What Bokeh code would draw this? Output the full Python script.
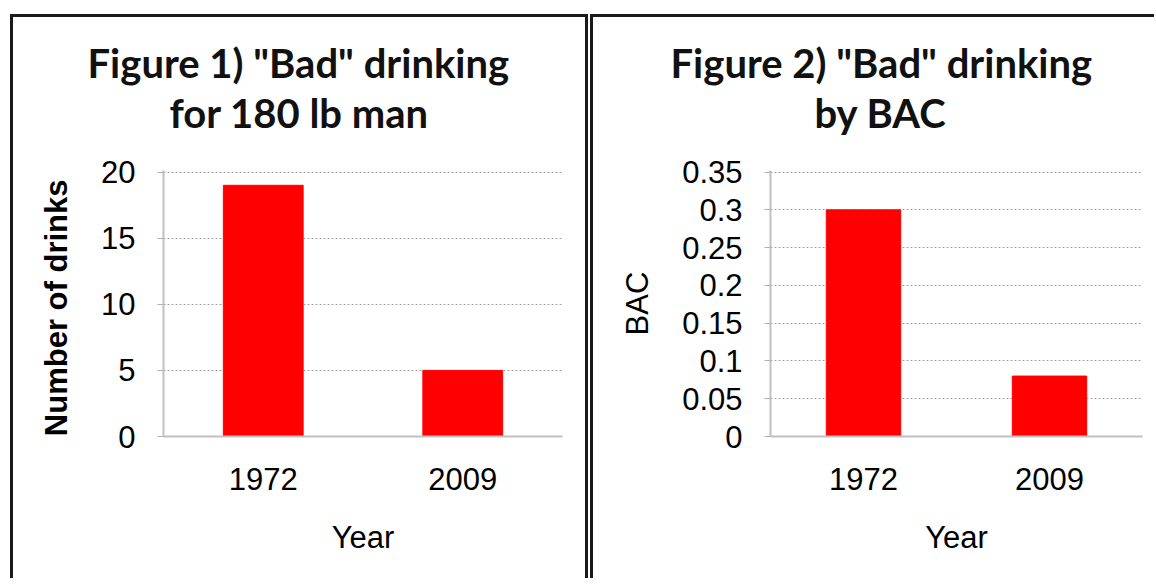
from bokeh.plotting import figure
from bokeh.layouts import row
from bokeh.models import Title, FactorRange, Range1d, FixedTicker, NumeralTickFormatter
from bokeh.embed import file_html
from bokeh.resources import INLINE

# ---- data ----
years = ["1972", "2009"]
drinks = [19, 5]
bac = [0.30, 0.08]
drink_ticks = [0, 5, 10, 15, 20]
bac_ticks = [0, 0.05, 0.10, 0.15, 0.20, 0.25, 0.30, 0.35]
title1 = ['Figure 1) "Bad" drinking', "for 180 lb man"]
title2 = ['Figure 2) "Bad" drinking', "by BAC"]
ylabel1 = "Number of  drinks"
ylabel2 = "BAC"
xlabel = "Year"

TICK_FONT = "Liberation Sans"
TITLE_FONT = "Lato"
BORDER = "3px solid #1a1a1a"


def make_panel(vals, ticks, ymax, ylabel, title_lines, width, left, right, offsets, fmt=None):
    p = figure(
        x_range=FactorRange(*years), y_range=Range1d(0, ymax * 1.006),
        width=width, height=564, output_backend="svg", toolbar_location=None,
        min_border_left=left, min_border_right=right, min_border_top=153, min_border_bottom=145,
        background_fill_color="white", border_fill_color="white",
    )
    p.outline_line_color = None
    p.vbar(x=years, top=vals, width=0.4, fill_color="#ff0000", line_color="#ff0000")

    p.xgrid.grid_line_color = None
    p.ygrid.grid_line_color = "#a0a0a0"
    p.ygrid.grid_line_dash = "2 2"
    p.ygrid.grid_line_width = 1

    p.yaxis.ticker = FixedTicker(ticks=ticks)
    if fmt is not None:
        p.yaxis.formatter = NumeralTickFormatter(format=fmt)

    for ax in (p.xaxis[0], p.yaxis[0]):
        ax.axis_line_color = "#c0c0c0"
        ax.axis_line_width = 2
        ax.major_tick_line_color = "#b0b0b0"
        ax.minor_tick_line_color = None
        ax.major_label_text_font = TICK_FONT
        ax.major_label_text_font_size = "31px"
        ax.major_label_text_color = "black"
        ax.axis_label_text_font = TICK_FONT
        ax.axis_label_text_font_size = "31px"
        ax.axis_label_text_color = "black"
        ax.axis_label_text_font_style = "normal"

    p.yaxis.major_tick_out = 6
    p.yaxis.major_tick_in = 0
    p.yaxis.major_label_standoff = 22
    p.yaxis.axis_label = ylabel
    p.yaxis.axis_label_standoff = 24

    p.xaxis.major_tick_out = 0
    p.xaxis.major_tick_in = 0
    p.xaxis.major_label_standoff = 31
    p.xaxis.axis_label = xlabel
    p.xaxis.axis_label_standoff = 27

    # titles stack outward from the frame; a blank spacer keeps them clear of the frame
    p.add_layout(Title(text=" ", align="left", standoff=21, text_font_size="10px"), "above")
    p.add_layout(Title(text=title_lines[1], align="left", offset=offsets[1], standoff=0,
                       text_font=TITLE_FONT, text_font_style="bold", text_font_size="40px",
                       text_color="#111111"), "above")
    p.add_layout(Title(text=title_lines[0], align="left", offset=offsets[0], standoff=0,
                       text_font=TITLE_FONT, text_font_style="bold", text_font_size="40px",
                       text_color="#111111"), "above")
    return p


p1 = make_panel(drinks, drink_ticks, 20, ylabel1, title1, 578, 150, 29, (-76, 6))
p1.yaxis.axis_label_text_font_style = "bold"
p1.styles = {"border-top": BORDER, "border-left": BORDER, "border-right": BORDER}
p1.margin = (14, 0, 0, 10)

p2 = make_panel(bac, bac_ticks, 0.35, ylabel2, title2, 564, 177, 15, (-100, 44), fmt="0.[00]")
p2.styles = {"border-top": BORDER, "border-left": BORDER}
p2.margin = (14, 0, 0, 2)

layout = row(p1, p2)
layout.spacing = 0

open("out.html", "w").write(file_html(layout, INLINE))
